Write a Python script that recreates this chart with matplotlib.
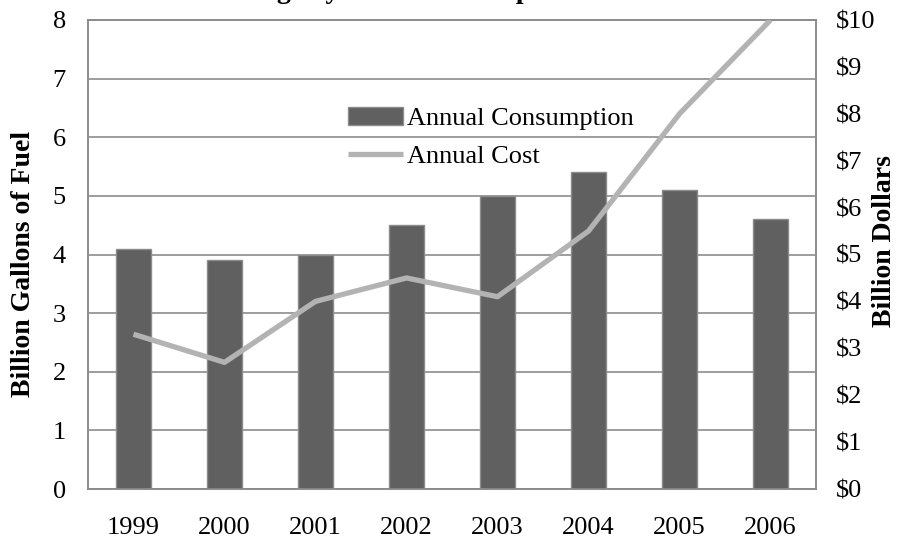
import matplotlib
matplotlib.use('Agg')
import matplotlib.pyplot as plt
import numpy as np

plt.rcParams['font.family'] = ['Liberation Serif', 'DejaVu Serif']

years = ['1999', '2000', '2001', '2002', '2003', '2004', '2005', '2006']
consumption = [4.1, 3.9, 4.0, 4.5, 5.0, 5.4, 5.1, 4.6]   # billion gallons
cost = [3.3, 2.7, 4.0, 4.5, 4.1, 5.5, 8.0, 10.0]          # billion dollars
dollar_ticks = ['$0', '$1', '$2', '$3', '$4', '$5', '$6', '$7', '$8', '$9', '$10']

fs = 19
lfs = 20

fig = plt.figure(figsize=(8.98, 5.42), dpi=100)
ax = fig.add_axes([88 / 898, 1 - 489 / 542, (816 - 88) / 898, (489 - 20) / 542])
ax2 = ax.twinx()

x = np.arange(len(years))
bars = ax.bar(x, consumption, width=0.38, color='#606060', edgecolor='#8c8c8c',
              linewidth=1, zorder=3, label='Annual Consumption')
ax.set_xlim(-0.5, len(years) - 0.5)
ax.set_ylim(0, 8)
ax.set_yticks(range(0, 9))
ax.set_xticks(x)
ax.set_xticklabels(years)
ax.yaxis.grid(True, color='#8c8c8c', linewidth=1.2, zorder=0)
ax.set_axisbelow(True)

line, = ax2.plot(x, cost, color='#b3b3b3', linewidth=3.8, zorder=4,
                 solid_capstyle='butt', label='Annual Cost')
ax2.set_ylim(0, 10)
ax2.set_yticks(range(0, 11))
ax2.set_yticklabels(dollar_ticks)

for a in (ax, ax2):
    for s in a.spines.values():
        s.set_color('#8c8c8c')
        s.set_linewidth(1.2)
    a.tick_params(length=0, labelsize=fs)
ax.tick_params(axis='y', pad=16)
ax.tick_params(axis='x', pad=20)
ax2.tick_params(axis='y', pad=14)

ax.set_ylabel('Billion Gallons of Fuel', fontsize=lfs, fontweight='bold',
              rotation=90, va='center', ha='center')
ax.yaxis.set_label_coords(-0.089, 0.48)
ax2.set_ylabel('Billion Dollars', fontsize=lfs, fontweight='bold',
               rotation=90, va='center', ha='center')
ax2.yaxis.set_label_coords(1.094, 0.529)

ax.legend([bars, line], ['Annual Consumption', 'Annual Cost'], frameon=False,
          fontsize=fs, loc='upper left', bbox_to_anchor=(0.357, 0.815),
          handlelength=2.1, handletextpad=0.15, labelspacing=0.55,
          borderaxespad=0, borderpad=0)

fig.text(0.43, 1.004, 'Airline Fuel Usage by Year: Consumption and Cost',
         ha='center', va='baseline', fontsize=lfs, fontweight='bold')

fig.savefig('out.png', dpi=100)
